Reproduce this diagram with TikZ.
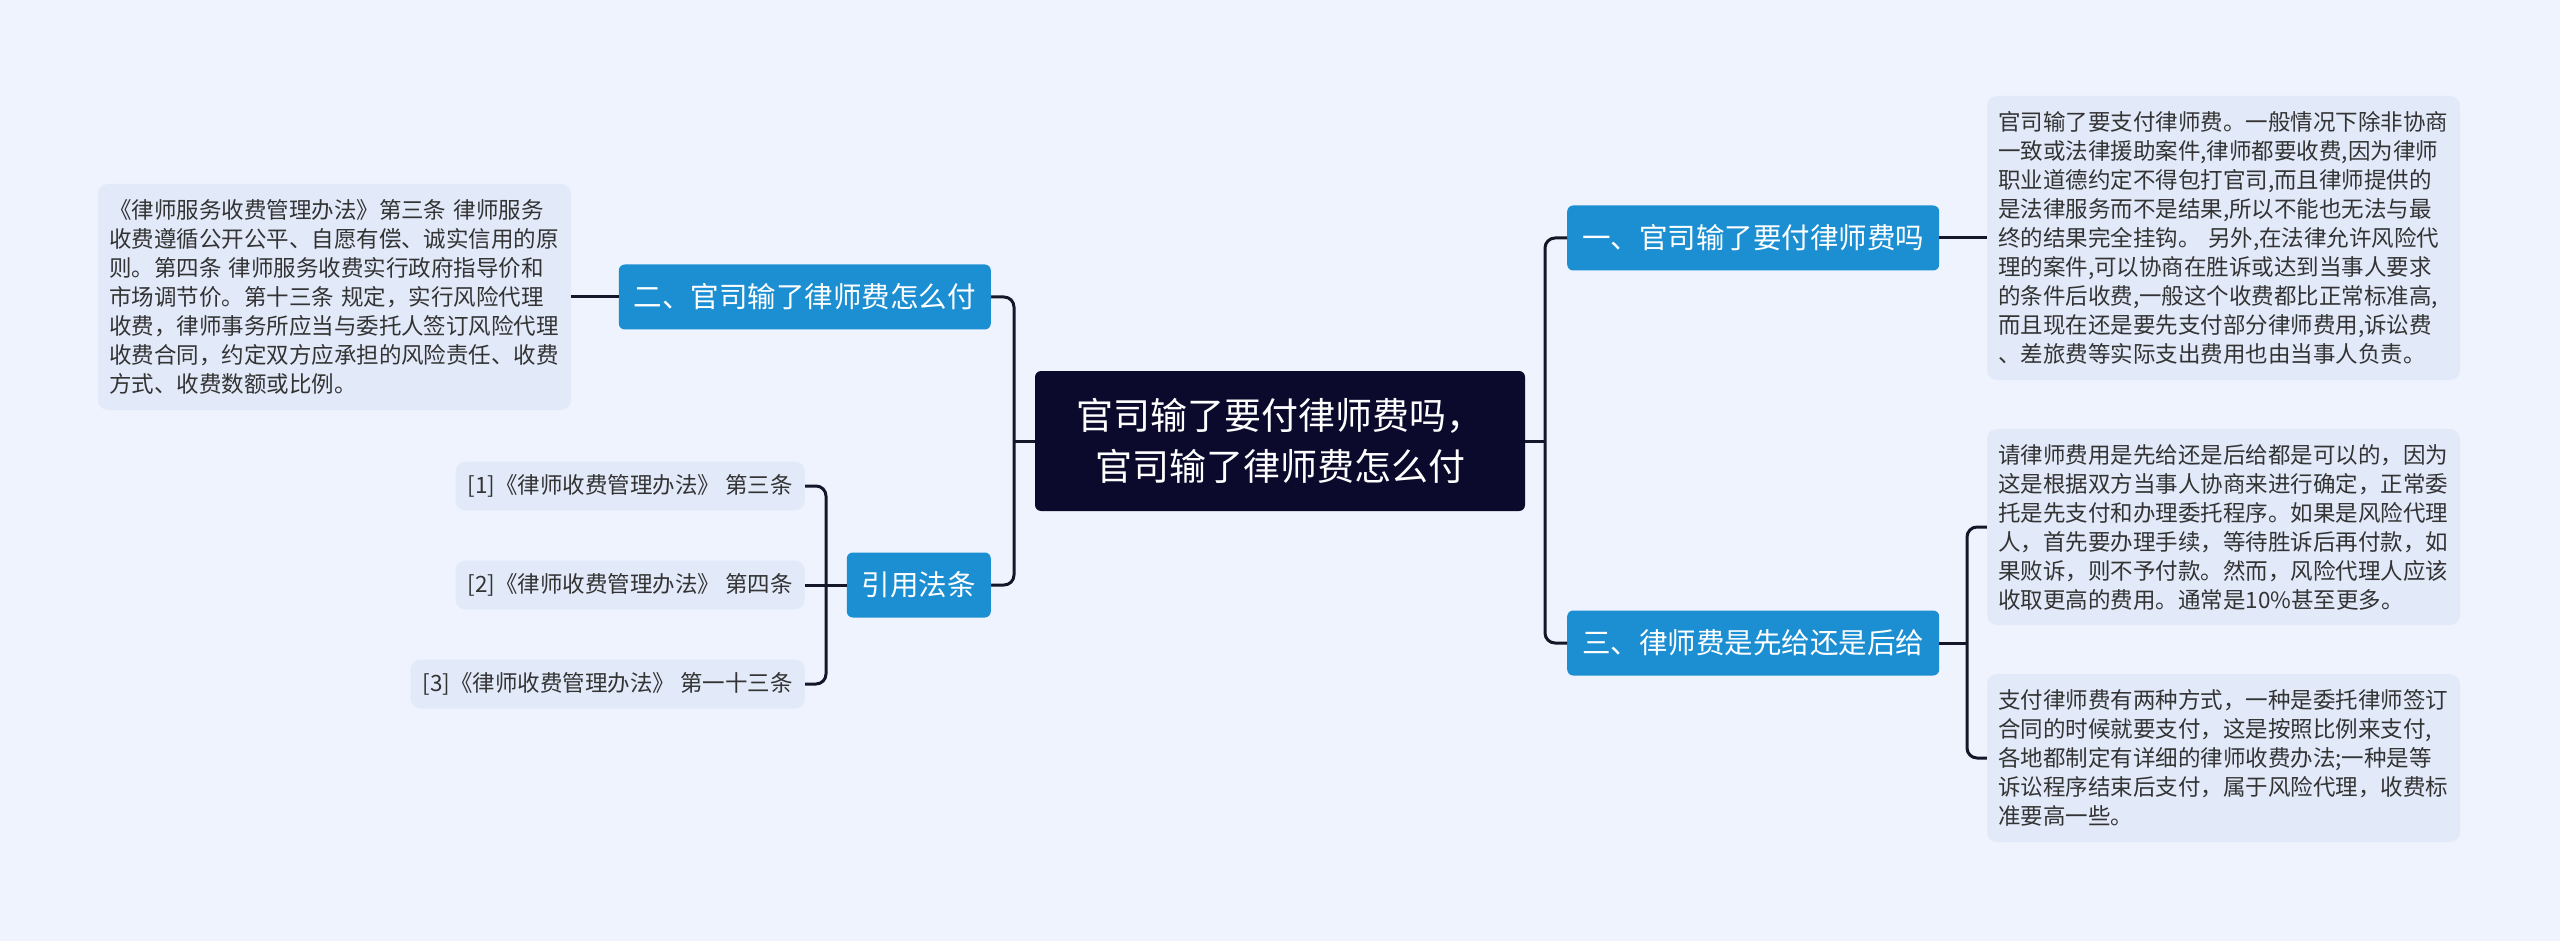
\documentclass[tikz,border=0pt]{standalone}
\usepackage{fontspec}
\setmainfont{Noto Sans CJK SC}
\definecolor{bgblue}{HTML}{EEF3FD}
\definecolor{leafblue}{HTML}{E2EAFA}
\definecolor{nodeblue}{HTML}{1C8FD3}
\definecolor{rootnavy}{HTML}{0C0A2C}
\definecolor{linkdark}{HTML}{16162A}
\definecolor{textgray}{HTML}{333333}
\tikzset{
    rootbox/.style={fill=rootnavy, text=white, rounded corners=6pt, align=center,
        minimum width=490pt, minimum height=140pt, font=\fontsize{37}{51}\selectfont},
    branchbox/.style={fill=nodeblue, text=white, rounded corners=6pt, inner xsep=15pt,
        minimum height=65pt, font=\fontsize{28.5}{34}\selectfont},
    leafbox/.style={fill=leafblue, text=textgray, rounded corners=10pt, align=left,
        text width=451pt, inner xsep=11pt, font=\fontsize{22.5}{29}\selectfont},
    citebox/.style={fill=leafblue, text=textgray, rounded corners=10pt, inner xsep=12pt,
        minimum height=49pt, font=\fontsize{22.5}{27}\selectfont},
    linkline/.style={draw=linkdark, line width=3pt, rounded corners=10pt}
}
\begin{document}
\begin{tikzpicture}[x=1pt, y=-1pt]
    \fill
        [bgblue] (0,0) rectangle (2560,941);
    \useasboundingbox
        (0,0) rectangle (2560,941);
    \node
        [rootbox] (root) at (1280,441) {官司输了要付律师费吗，\\官司输了律师费怎么付};
    \node
        [branchbox, anchor=west] (b1) at (1567,238) {一、官司输了要付律师费吗};
    \node
        [branchbox, anchor=west] (b3) at (1567,643) {三、律师费是先给还是后给};
    \node
        [branchbox, anchor=east] (b2) at (991,297) {二、官司输了律师费怎么付};
    \node
        [branchbox, anchor=east] (b4) at (991,585) {引用法条};
    \node
        [leafbox, minimum height=284pt] (r1) at (2223.5,238)
        {官司输了要支付律师费。一般情况下除非协商\\
         一致或法律援助案件,律师都要收费,因为律师\\
         职业道德约定不得包打官司,而且律师提供的\\
         是法律服务而不是结果,所以不能也无法与最\\
         终的结果完全挂钩。 另外,在法律允许风险代\\
         理的案件,可以协商在胜诉或达到当事人要求\\
         的条件后收费,一般这个收费都比正常标准高,\\
         而且现在还是要先支付部分律师费用,诉讼费\\
         、差旅费等实际支出费用也由当事人负责。};
    \node
        [leafbox, minimum height=196pt] (r2) at (2223.5,527)
        {请律师费用是先给还是后给都是可以的，因为\\
         这是根据双方当事人协商来进行确定，正常委\\
         托是先支付和办理委托程序。如果是风险代理\\
         人，首先要办理手续，等待胜诉后再付款，如\\
         果败诉，则不予付款。然而，风险代理人应该\\
         收取更高的费用。通常是10\%甚至更多。};
    \node
        [leafbox, minimum height=168pt] (r3) at (2223.5,758)
        {支付律师费有两种方式，一种是委托律师签订\\
         合同的时候就要支付，这是按照比例来支付,\\
         各地都制定有详细的律师收费办法;一种是等\\
         诉讼程序结束后支付，属于风险代理，收费标\\
         准要高一些。};
    \node
        [leafbox, minimum height=226pt] (l1) at (334.5,297)
        {《律师服务收费管理办法》第三条 律师服务\\
         收费遵循公开公平、自愿有偿、诚实信用的原\\
         则。第四条 律师服务收费实行政府指导价和\\
         市场调节价。第十三条 规定，实行风险代理\\
         收费，律师事务所应当与委托人签订风险代理\\
         收费合同，约定双方应承担的风险责任、收费\\
         方式、收费数额或比例。};
    \node
        [citebox, anchor=east] (c1) at (805,486) {[1]《律师收费管理办法》 第三条};
    \node
        [citebox, anchor=east] (c2) at (805,585) {[2]《律师收费管理办法》 第四条};
    \node
        [citebox, anchor=east] (c3) at (805,684) {[3]《律师收费管理办法》 第一十三条};
    \coordinate (lj) at (1014,441);
    \coordinate (rj) at (1545,441);
    \coordinate (tj) at (1967,643);
    \coordinate (cj) at (826,585);
    \draw
        [linkline] (b2.east) -| (lj) |- (b4.east);
    \draw
        [linkline] (root.west) -- (lj);
    \draw
        [linkline] (b1.west) -| (rj) |- (b3.west);
    \draw
        [linkline] (root.east) -- (rj);
    \draw
        [linkline] (b1.east) -- (r1.west);
    \draw
        [linkline] (r2.west) -| (tj) |- (r3.west);
    \draw
        [linkline] (b3.east) -- (tj);
    \draw
        [linkline] (l1.east) -- (b2.west);
    \draw
        [linkline] (c1.east) -| (cj) |- (c3.east);
    \draw
        [linkline] (c2.east) -- (cj) -- (b4.west);
\end{tikzpicture}
\end{document}
